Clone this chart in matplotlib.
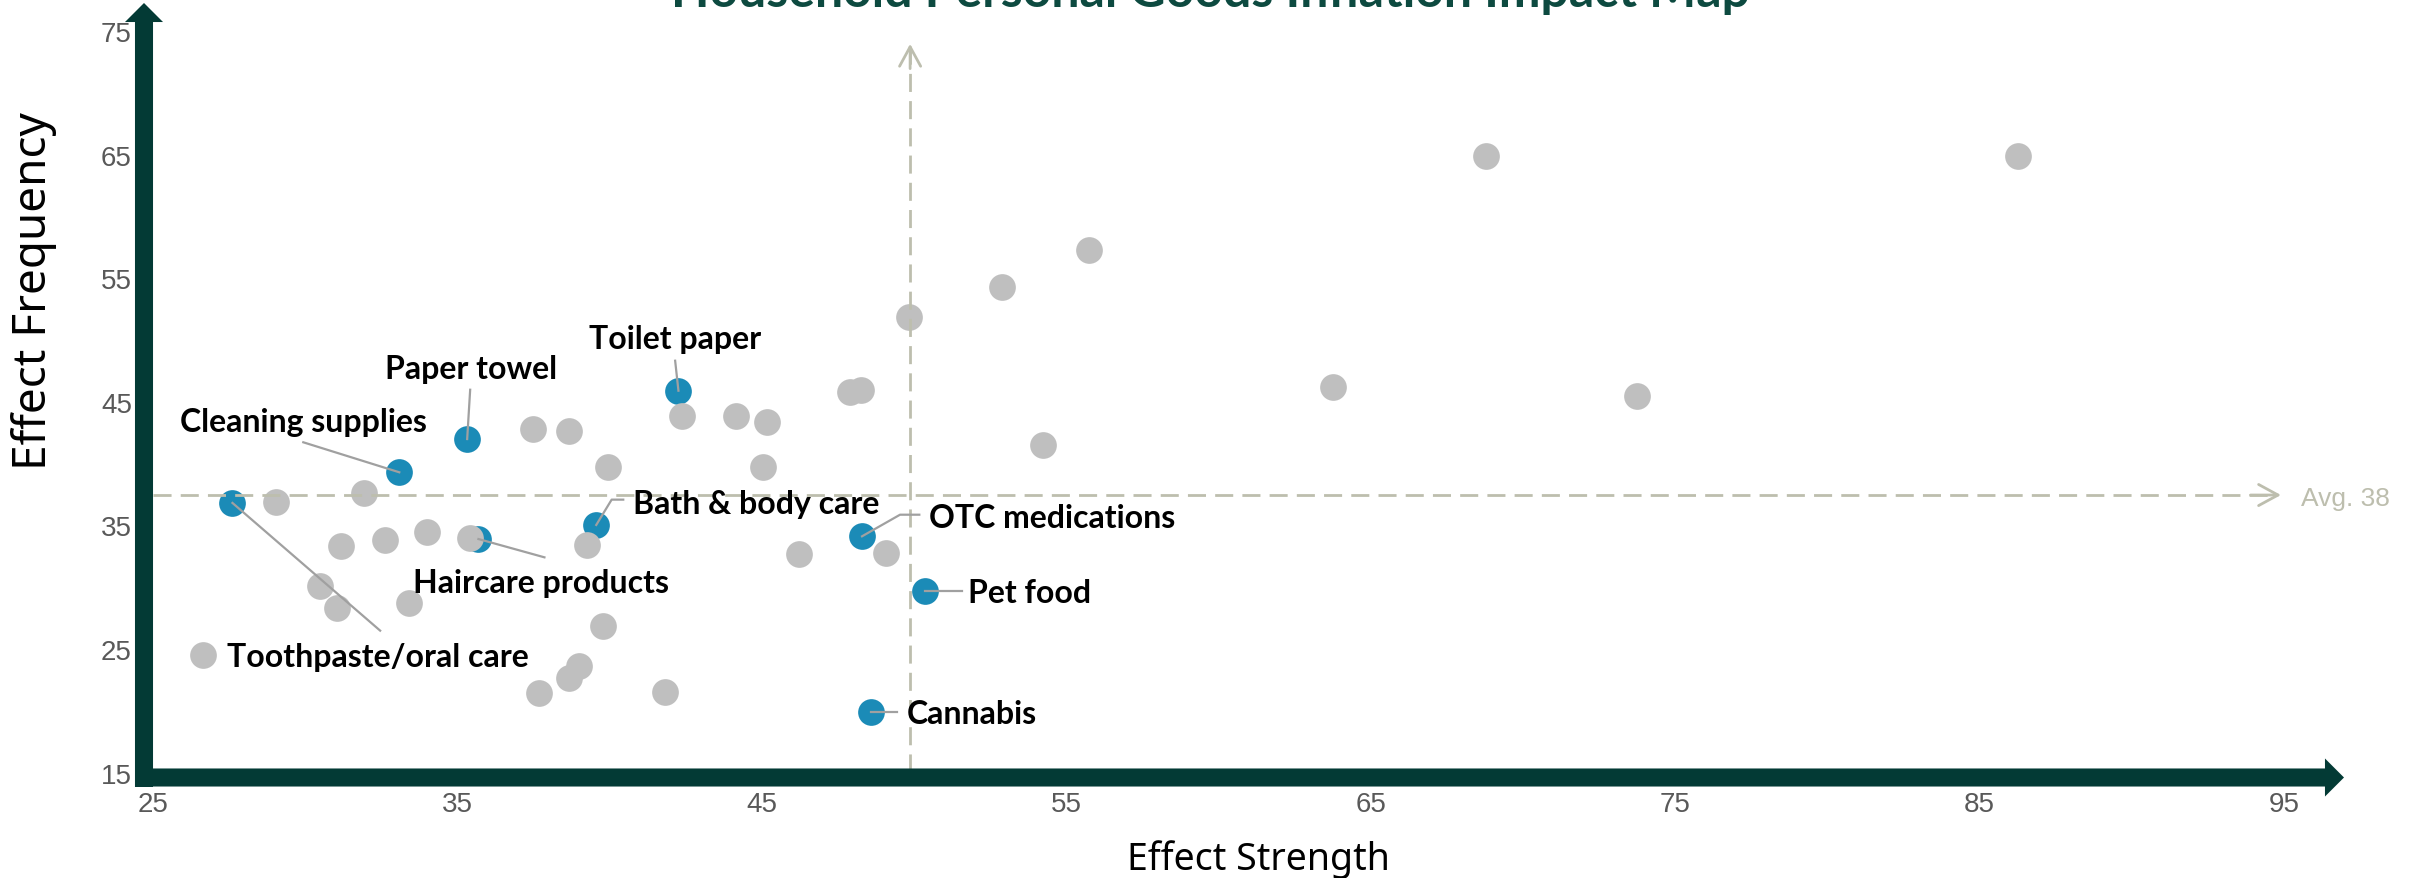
import matplotlib
matplotlib.use("Agg")
import matplotlib.pyplot as plt
from matplotlib.patches import FancyArrowPatch
from matplotlib.lines import Line2D
from matplotlib.transforms import IdentityTransform

# ---------------- data ----------------
title = "Household Personal Goods Inflation Impact Map"
x_label = "Effect Strength"
y_label = "Effect Frequency"

x_ticks = [25, 35, 45, 55, 65, 75, 85, 95]
y_ticks = [15, 25, 35, 45, 55, 65, 75]

# all other categories (grey)
other_x = [26.65, 29.05, 31.93, 31.18, 32.62, 34.01, 35.41, 30.48, 31.03, 33.42,
           37.48, 38.66, 39.96, 39.27, 39.77, 39.00, 38.68, 37.69, 41.82, 42.37,
           44.16, 45.17, 45.05, 46.23, 47.90, 48.26, 49.83, 49.07, 52.90, 55.75,
           54.24, 63.76, 68.79, 73.76, 86.27]
other_y = [24.78, 37.16, 37.89, 33.55, 34.06, 34.68, 34.20, 30.34, 28.56, 28.99,
           43.04, 42.92, 39.97, 33.64, 27.08, 23.87, 22.92, 21.68, 21.79, 44.12,
           44.12, 43.61, 39.94, 32.93, 46.06, 46.17, 52.10, 33.01, 54.53, 57.54,
           41.73, 46.40, 65.11, 45.69, 65.11]

# highlighted household personal goods (blue)
goods = ["Toothpaste/oral care", "Cleaning supplies", "Paper towel", "Toilet paper",
         "Haircare products", "Bath & body care", "OTC medications", "Pet food",
         "Cannabis"]
goods_x = [27.61, 33.09, 35.32, 42.26, 35.69, 39.56, 48.29, 50.37, 48.59]
goods_y = [37.06, 39.54, 42.23, 46.14, 34.14, 35.28, 34.36, 29.96, 20.12]

avg_frequency = 37.7
avg_strength = 49.87

# ---------------- style ----------------
W, H, DPI = 2417, 879, 100
AXIS_COL = "#033A35"
TITLE_COL = "#0D4A40"
BLUE = "#1B8BB7"
GREY = "#BFBFBF"
AVG_COL = "#BDBEAE"
LEADER_COL = "#A0A0A0"
TICK_COL = "#595959"
BOLD_FONT = ["Lato", "DejaVu Sans"]

fig = plt.figure(figsize=(W / DPI, H / DPI), dpi=DPI)
fig.patch.set_facecolor("white")

ax_l, ax_r, ax_t, ax_b = 153, 2284, 35, 776.6  # pixel frame of the data area
ax = fig.add_axes([ax_l / W, (H - ax_b) / H, (ax_r - ax_l) / W, (ax_b - ax_t) / H])
ax.set_xlim(25, 95)
ax.set_ylim(15, 75)
ax.set_xticks(x_ticks)
ax.set_yticks(y_ticks)
ax.set_xticklabels([str(v) for v in x_ticks])
ax.set_yticklabels([])
for s in ax.spines.values():
    s.set_visible(False)
ax.tick_params(axis="both", length=0, labelsize=20, labelcolor=TICK_COL)
ax.tick_params(axis="x", pad=11)
for lbl in ax.get_xticklabels():
    lbl.set_fontfamily("Liberation Sans")
ax.set_facecolor("white")

# y tick labels sit right beside the vertical axis bar
for v in y_ticks:
    ax.annotate(str(v), xy=(0, v), xycoords=("axes fraction", "data"),
                xytext=(-21, 0), textcoords="offset pixels", ha="right",
                va="center", fontsize=20, color=TICK_COL, family="Liberation Sans",
                annotation_clip=False)

# thick arrow-shaped axes
def px_to_axes(px, py):
    return ((px - ax_l) / (ax_r - ax_l), (ax_b - py) / (ax_b - ax_t))

arrow_style = "simple,tail_width=13,head_width=27.4,head_length=13.7"
y_arrow = FancyArrowPatch(px_to_axes(144, 788), px_to_axes(144, 4),
                          arrowstyle=arrow_style, mutation_scale=1,
                          transform=ax.transAxes, color=AXIS_COL, lw=0,
                          shrinkA=0, shrinkB=0, clip_on=False, zorder=8)
x_arrow = FancyArrowPatch(px_to_axes(135, 778.5), px_to_axes(2344, 778.5),
                          arrowstyle=arrow_style, mutation_scale=1,
                          transform=ax.transAxes, color=AXIS_COL, lw=0,
                          shrinkA=0, shrinkB=0, clip_on=False, zorder=8)
ax.add_patch(y_arrow)
ax.add_patch(x_arrow)

# points
ax.scatter(goods_x, goods_y, s=370, color=BLUE, linewidths=0, zorder=3, clip_on=False)
ax.scatter(other_x, other_y, s=370, color=GREY, linewidths=0, zorder=4, clip_on=False)

# average reference lines with open arrow heads
dash = (6.5, 3.3)
x_end = 94.9
y_end = 74.2
ax.plot([25, x_end - 0.3], [avg_frequency, avg_frequency], color=AVG_COL, lw=2,
        dashes=dash, zorder=5, clip_on=False)
ax.plot([avg_strength, avg_strength], [15.3, y_end - 0.6], color=AVG_COL, lw=2,
        dashes=dash, zorder=5, clip_on=False)
head = "->,head_length=0.7,head_width=0.38"
ax.annotate("", xy=(x_end, avg_frequency), xytext=(x_end - 1, avg_frequency),
            arrowprops=dict(arrowstyle=head, color=AVG_COL, lw=2, mutation_scale=20,
                            shrinkA=0, shrinkB=0), zorder=5, annotation_clip=False)
ax.annotate("", xy=(avg_strength, y_end), xytext=(avg_strength, y_end - 2),
            arrowprops=dict(arrowstyle=head, color=AVG_COL, lw=2, mutation_scale=20,
                            shrinkA=0, shrinkB=0), zorder=5, annotation_clip=False)
ax.annotate(f"Avg. {avg_frequency:.0f}", xy=(x_end, avg_frequency), xytext=(20, -10),
            textcoords="offset pixels", ha="left", va="baseline", fontsize=19,
            color=AVG_COL, family="Liberation Sans", annotation_clip=False)

# labels with leader lines: text offset (px), alignment, leader path offsets (px)
label_layout = {
    "Toothpaste/oral care": ((-5, -151.7), "left", [(147.7, -127.7)]),
    "Cleaning supplies": ((-96.3, 52.6), "center", [(-96, 30)]),
    "Paper towel": ((3.4, 71.7), "center", [(3, 49.3)]),
    "Toilet paper": ((-3.3, 53.4), "center", [(-3.3, 30)]),
    "Haircare products": ((-65, -41.7), "left", [(66, -18.3)]),
    "Bath & body care": ((37, 22.7), "left", [(15.4, 25.3), (27, 25.3)]),
    "OTC medications": ((67, 20.6), "left", [(38, 21.6), (57.3, 21.6)]),
    "Pet food": ((42.7, 0), "left", [(36.4, 0)]),
    "Cannabis": ((35.7, 0), "left", [(26.3, 0)]),
}
cap_half = 11
for name, gx, gy in zip(goods, goods_x, goods_y):
    (tdx, tdy), ha, path = label_layout[name]
    cx, cy = ax.transData.transform((gx, gy))
    xs = [cx] + [cx + p[0] for p in path]
    ys = [cy] + [cy + p[1] for p in path]
    ax.add_line(Line2D(xs, ys, transform=IdentityTransform(), color=LEADER_COL,
                       lw=1.6, zorder=6, clip_on=False))
    ax.annotate(name, xy=(gx, gy), xytext=(tdx, tdy - cap_half),
                textcoords="offset pixels", ha=ha, va="baseline", fontsize=23,
                fontweight="bold", family=BOLD_FONT, color="black", zorder=7,
                annotation_clip=False)

# titles
fig.text(1258 / W, (H - 870) / H, x_label, ha="center", va="baseline",
         fontsize=27, family="Noto Sans", color="black")
fig.text(34 / W, 1 - 291 / H, y_label, ha="center", va="center", rotation=90,
         fontsize=33, family="Noto Sans", color="black")
fig.text(1211 / W, 1 - 7 / H, title, ha="center", va="baseline", fontsize=36,
         fontweight="bold", family=BOLD_FONT, color=TITLE_COL)

fig.savefig("out.png", dpi=DPI, facecolor="white")
